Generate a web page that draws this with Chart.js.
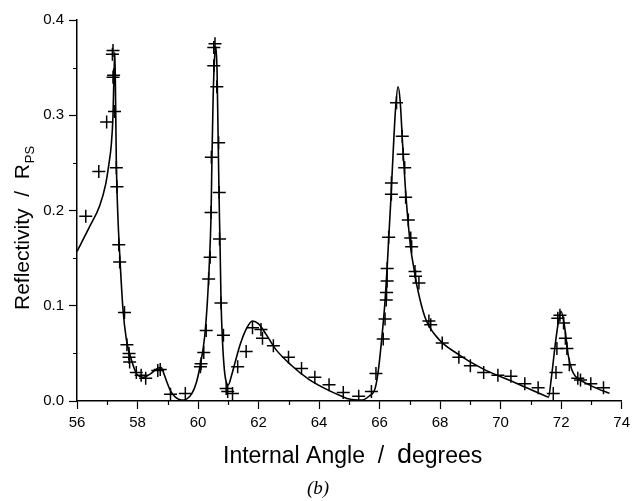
<!DOCTYPE html>
<html>
<head>
<meta charset="utf-8">
<script src="https://cdn.jsdelivr.net/npm/chart.js@4.4.1/dist/chart.umd.min.js"></script>
<style>
  html, body { margin: 0; padding: 0; background: #fff; }
  #wrap { width: 635px; height: 501px; }
</style>
</head>
<body>
<div id="wrap"><canvas id="grafico" width="635" height="501"></canvas></div>
<script>
// Curva teórica (ángulo interno en grados, reflectividad R_PS)
const anguloCurva = [
  56.00, 56.40, 56.75, 56.95, 57.05, 57.13, 57.19, 57.22, 57.25, 57.27,
  57.30, 57.35, 57.41, 57.52, 57.63, 57.79, 58.00, 58.20, 58.45, 58.65,
  58.78, 58.88, 58.97, 59.10, 59.25, 59.45, 59.62, 59.80, 59.95, 60.10,
  60.22, 60.31, 60.37, 60.43, 60.46, 60.50, 60.55, 60.59, 60.63, 60.66,
  60.69, 60.71, 60.73, 60.76, 60.81, 60.87, 60.94, 61.00, 61.10, 61.22,
  61.40, 61.60, 61.80, 62.00, 62.25, 62.55, 63.10, 63.65, 64.20, 64.75,
  65.00, 65.40, 65.65, 65.85, 65.95, 66.07, 66.18, 66.25, 66.30, 66.37,
  66.45, 66.53, 66.61, 66.68, 66.76, 66.86, 66.95, 67.03, 67.13, 67.24,
  67.50, 67.95, 68.60, 69.40, 70.50, 71.50, 71.58, 71.68, 71.80, 71.91,
  72.00, 72.08, 72.14, 72.24, 72.35, 72.47, 72.80, 73.20, 73.60
];
const reflCurva = [
  0.157, 0.182, 0.205, 0.228, 0.248, 0.268, 0.300, 0.340, 0.366, 0.330,
  0.250, 0.195, 0.155, 0.096, 0.065, 0.044, 0.027, 0.025, 0.029, 0.034,
  0.035, 0.028, 0.020, 0.010, 0.004, 0.001, 0.002, 0.008, 0.020, 0.042,
  0.068, 0.105, 0.142, 0.195, 0.255, 0.320, 0.362, 0.372, 0.345, 0.285,
  0.225, 0.190, 0.160, 0.105, 0.062, 0.033, 0.019, 0.017, 0.026, 0.040,
  0.060, 0.076, 0.084, 0.081, 0.070, 0.055, 0.037, 0.023, 0.013, 0.005,
  0.002, 0.001, 0.005, 0.013, 0.030, 0.065, 0.105, 0.140, 0.170, 0.210,
  0.262, 0.308, 0.330, 0.315, 0.270, 0.220, 0.185, 0.160, 0.140, 0.120,
  0.088, 0.065, 0.049, 0.034, 0.019, 0.005, 0.004, 0.025, 0.058, 0.083,
  0.094, 0.085, 0.072, 0.047, 0.033, 0.026, 0.019, 0.013, 0.008
];

// Puntos experimentales
const anguloMedido = [
  56.29, 56.72, 56.98, 57.17, 57.19, 57.19, 57.21, 57.24, 57.30, 57.32,
  57.38, 57.41, 57.57, 57.65, 57.72, 57.72, 57.74, 57.96, 58.12, 58.27,
  58.67, 58.75, 59.09, 59.58, 60.08, 60.10, 60.19, 60.27, 60.35, 60.40,
  60.43, 60.44, 60.52, 60.52, 60.56, 60.62, 60.68, 60.70, 60.71, 60.76,
  60.84, 60.93, 60.98, 61.14, 61.31, 61.59, 61.80, 62.08, 62.13, 62.49,
  62.99, 63.42, 63.86, 64.33, 64.80, 65.31, 65.73, 65.88, 66.12, 66.18,
  66.22, 66.23, 66.25, 66.25, 66.30, 66.39, 66.39, 66.56, 66.75, 66.78,
  66.83, 66.86, 66.95, 67.03, 67.06, 67.17, 67.19, 67.30, 67.63, 67.69,
  68.07, 68.62, 69.00, 69.44, 69.91, 70.34, 70.80, 71.24, 71.74, 71.83,
  71.86, 71.89, 71.96, 72.08, 72.14, 72.19, 72.27, 72.55, 72.64, 72.98,
  73.40
];
const reflMedida = [
  0.194, 0.241, 0.293, 0.364, 0.368, 0.340, 0.342, 0.304, 0.245, 0.225,
  0.164, 0.146, 0.093, 0.059, 0.050, 0.046, 0.041, 0.030, 0.027, 0.024,
  0.032, 0.033, 0.007, 0.008, 0.036, 0.039, 0.051, 0.074, 0.128, 0.151,
  0.198, 0.256, 0.352, 0.371, 0.375, 0.330, 0.271, 0.219, 0.170, 0.103,
  0.069, 0.013, 0.010, 0.008, 0.036, 0.052, 0.077, 0.075, 0.066, 0.058,
  0.046, 0.034, 0.025, 0.017, 0.009, 0.005, 0.010, 0.029, 0.065, 0.086,
  0.106, 0.114, 0.126, 0.139, 0.172, 0.217, 0.229, 0.313, 0.278, 0.259,
  0.245, 0.214, 0.190, 0.171, 0.162, 0.136, 0.131, 0.124, 0.084, 0.080,
  0.061, 0.046, 0.037, 0.030, 0.027, 0.026, 0.018, 0.014, 0.008, 0.030,
  0.055, 0.087, 0.090, 0.082, 0.066, 0.055, 0.038, 0.024, 0.022, 0.018,
  0.014
];

// Marcas de los ejes
const ticksMayoresX = [56, 58, 60, 62, 64, 66, 68, 70, 72, 74];
const ticksMenoresX = [57, 59, 61, 63, 65, 67, 69, 71, 73];
const ticksMayoresY = [0.0, 0.1, 0.2, 0.3, 0.4];
const ticksMenoresY = [0.05, 0.15, 0.25, 0.35];

const FUENTE = '"Liberation Sans", Arial, sans-serif';

// ─── Textos de ejes y marcas menores ─────────────────────────────
const pluginEjes = {
  id: 'ejesArticulo',
  afterDraw(chart) {
    const { ctx, chartArea: a, scales } = chart;
    ctx.save();
    ctx.strokeStyle = '#000';
    ctx.lineWidth = 1.2;
    ctx.beginPath();
    ticksMenoresX.forEach(v => {
      const px = Math.round(scales.x.getPixelForValue(v)) + 0.5;
      ctx.moveTo(px, a.bottom);
      ctx.lineTo(px, a.bottom + 4);
    });
    ticksMenoresY.forEach(v => {
      const py = Math.round(scales.y.getPixelForValue(v)) + 0.5;
      ctx.moveTo(a.left - 4, py);
      ctx.lineTo(a.left, py);
    });
    ctx.stroke();

    ctx.fillStyle = '#000';
    ctx.textBaseline = 'alphabetic';

    // Título eje Y con subíndice
    ctx.save();
    ctx.translate(29, 310);
    ctx.rotate(-Math.PI / 2);
    ctx.font = '21px ' + FUENTE;
    const base = 'Reflectivity  /  R';
    ctx.fillText(base, 0, 0);
    const w = ctx.measureText(base).width;
    ctx.font = '13px ' + FUENTE;
    ctx.fillText('PS', w + 1, 5);
    ctx.restore();

    // Título eje X ("d" un poco mayor)
    let x = 223;
    const yBase = 463;
    ctx.font = '23px ' + FUENTE;
    const t1 = 'Internal Angle  /  ';
    ctx.fillText(t1, x, yBase);
    x += ctx.measureText(t1).width;
    ctx.font = '27px ' + FUENTE;
    ctx.fillText('d', x, yBase);
    x += ctx.measureText('d').width;
    ctx.font = '23px ' + FUENTE;
    ctx.fillText('egrees', x, yBase);

    // Etiqueta del panel
    ctx.font = 'italic 19px "Liberation Serif", "Times New Roman", serif';
    ctx.textAlign = 'center';
    ctx.fillText('(b)', 318, 494);
    ctx.restore();
  }
};

const ctx = document.getElementById('grafico');

new Chart(ctx, {
  type: 'scatter',
  data: {
    datasets: [
      {
        label: 'teoría',
        data: anguloCurva.map((v, i) => ({ x: v, y: reflCurva[i] })),
        showLine: true,
        borderColor: '#000',
        borderWidth: 1.6,
        pointRadius: 0,
        cubicInterpolationMode: 'monotone',
        fill: false,
        order: 2
      },
      {
        label: 'medida',
        data: anguloMedido.map((v, i) => ({ x: v, y: reflMedida[i] })),
        showLine: false,
        pointStyle: 'cross',
        pointRadius: 6.5,
        borderColor: '#000',
        backgroundColor: '#000',
        borderWidth: 1.5,
        order: 1
      }
    ]
  },
  options: {
    responsive: false,
    animation: false,
    devicePixelRatio: 1,
    layout: { padding: { left: 0, right: 12, top: 20, bottom: 0 } },
    plugins: {
      legend: { display: false },
      tooltip: { enabled: false }
    },
    scales: {
      x: {
        type: 'linear',
        min: 56,
        max: 74,
        afterFit: (s) => { s.height = 100; },
        afterBuildTicks: (s) => { s.ticks = ticksMayoresX.map(v => ({ value: v })); },
        ticks: {
          color: '#000',
          font: { family: FUENTE, size: 15 },
          padding: 5,
          maxRotation: 0,
          callback: (v) => String(v)
        },
        grid: {
          drawOnChartArea: false,
          drawTicks: true,
          tickLength: 8,
          tickColor: '#000',
          tickWidth: 1.2
        },
        border: { display: true, color: '#000', width: 1.5 }
      },
      y: {
        type: 'linear',
        min: 0,
        max: 0.4,
        afterFit: (s) => { s.width = 77; },
        afterBuildTicks: (s) => { s.ticks = ticksMayoresY.map(v => ({ value: v })); },
        ticks: {
          color: '#000',
          font: { family: FUENTE, size: 15 },
          padding: 5,
          callback: (v) => v.toFixed(1)
        },
        grid: {
          drawOnChartArea: false,
          drawTicks: true,
          tickLength: 8,
          tickColor: '#000',
          tickWidth: 1.2
        },
        border: { display: true, color: '#000', width: 1.5 }
      }
    }
  },
  plugins: [pluginEjes]
});
</script>
</body>
</html>
